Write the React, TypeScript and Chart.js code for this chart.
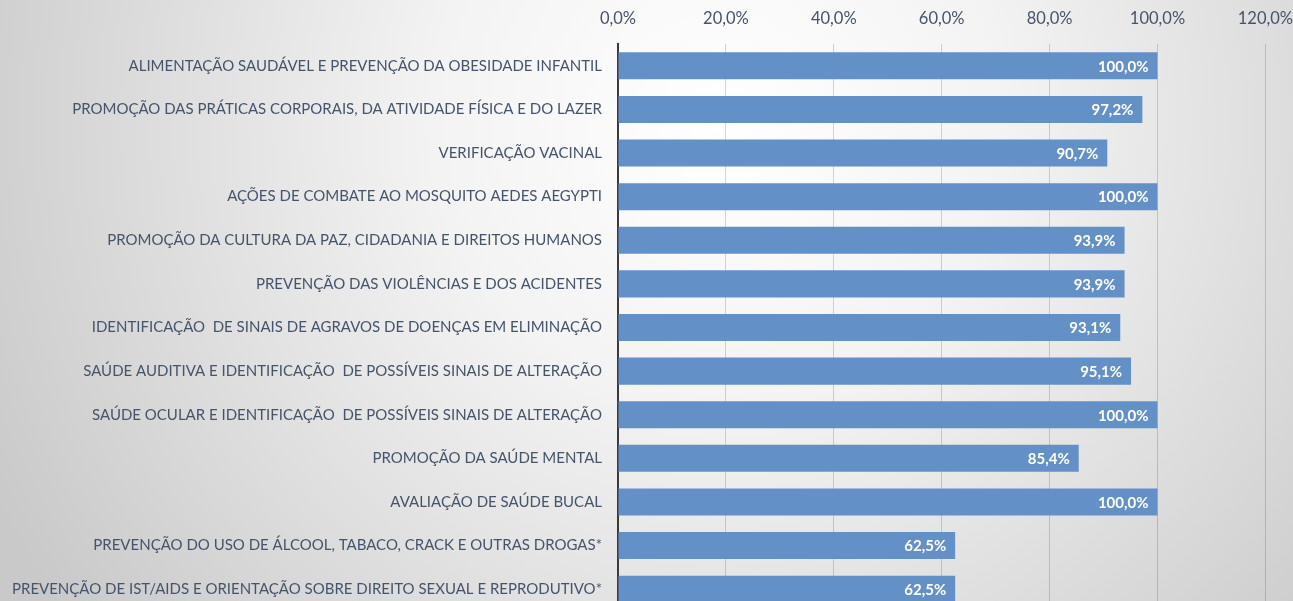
import React, { useEffect, useRef } from "react";
import { Chart, registerables } from "chart.js";

Chart.register(...registerables);

const categories = [
  "ALIMENTAÇÃO SAUDÁVEL E PREVENÇÃO DA OBESIDADE INFANTIL",
  "PROMOÇÃO DAS PRÁTICAS CORPORAIS, DA ATIVIDADE FÍSICA E DO LAZER",
  "VERIFICAÇÃO VACINAL",
  "AÇÕES DE COMBATE AO MOSQUITO AEDES AEGYPTI",
  "PROMOÇÃO DA CULTURA DA PAZ, CIDADANIA E DIREITOS HUMANOS",
  "PREVENÇÃO DAS VIOLÊNCIAS E DOS ACIDENTES",
  "IDENTIFICAÇÃO  DE SINAIS DE AGRAVOS DE DOENÇAS EM ELIMINAÇÃO",
  "SAÚDE AUDITIVA E IDENTIFICAÇÃO  DE POSSÍVEIS SINAIS DE ALTERAÇÃO",
  "SAÚDE OCULAR E IDENTIFICAÇÃO  DE POSSÍVEIS SINAIS DE ALTERAÇÃO",
  "PROMOÇÃO DA SAÚDE MENTAL",
  "AVALIAÇÃO DE SAÚDE BUCAL",
  "PREVENÇÃO DO USO DE ÁLCOOL, TABACO, CRACK E OUTRAS DROGAS*",
  "PREVENÇÃO DE IST/AIDS E ORIENTAÇÃO SOBRE DIREITO SEXUAL E REPRODUTIVO*",
];

const values = [100, 97.2, 90.7, 100, 93.9, 93.9, 93.1, 95.1, 100, 85.4, 100, 62.5, 62.5];

const axisMin = 0;
const axisMax = 120;
const axisStep = 20;

const fmt = (v: number) => v.toFixed(1).replace(".", ",") + "%";

const FONT = "Lato, 'Open Sans', sans-serif";
const TEXT = "#44546A";

const bgPlugin = {
  id: "bgGradient",
  beforeDraw(chart: any) {
    const { ctx, width, height } = chart;
    ctx.save();
    const g = ctx.createRadialGradient(720, 120, 0, 720, 120, 820);
    g.addColorStop(0, "#ffffff");
    g.addColorStop(0.35, "#f3f3f3");
    g.addColorStop(1, "#c9c9c9");
    ctx.fillStyle = g;
    ctx.fillRect(0, 0, width, height);
    ctx.restore();
  },
};

const labelPlugin = {
  id: "barValueLabels",
  afterDatasetsDraw(chart: any) {
    const { ctx } = chart;
    const meta = chart.getDatasetMeta(0);
    ctx.save();
    ctx.font = `bold 15px ${FONT}`;
    ctx.fillStyle = "#ffffff";
    ctx.textAlign = "right";
    ctx.textBaseline = "middle";
    meta.data.forEach((bar: any, i: number) => {
      ctx.fillText(fmt(values[i]), bar.x - 9, bar.y + 1);
    });
    ctx.restore();
  },
};

export default function App() {
  const ref = useRef<HTMLCanvasElement | null>(null);
  useEffect(() => {
    document.body.style.margin = "0";
    document.body.style.overflow = "hidden";
    const chart = new Chart(ref.current!, {
      type: "bar",
      data: {
        labels: categories,
        datasets: [
          {
            data: values,
            backgroundColor: "#6490C8",
            categoryPercentage: 1,
            barPercentage: 0.62,
          },
        ],
      },
      options: {
        indexAxis: "y",
        animation: false,
        responsive: false,
        layout: { padding: { top: 0, right: 28, bottom: 0, left: 0 } },
        plugins: { legend: { display: false }, tooltip: { enabled: false } },
        scales: {
          x: {
            position: "top",
            min: axisMin,
            max: axisMax,
            ticks: {
              stepSize: axisStep,
              callback: (v: any) => fmt(Number(v)),
              color: TEXT,
              font: { family: FONT, size: 16.5 },
              padding: 15,
            },
            grid: { color: "rgba(0,0,0,0.16)", drawTicks: false },
            border: { display: false },
            afterFit: (s: any) => {
              s.height = 44;
            },
          },
          y: {
            ticks: {
              color: TEXT,
              font: { family: FONT, size: 15 },
              padding: 16,
              autoSkip: false,
            },
            grid: { display: false, drawTicks: false },
            border: { display: true, color: "#3a3a3a", width: 2 },
            afterFit: (s: any) => {
              s.width = 618;
            },
          },
        },
      },
      plugins: [bgPlugin, labelPlugin],
    });
    return () => chart.destroy();
  }, []);
  return (
    <div style={{ position: "fixed", left: 0, top: 0 }}>
      <canvas ref={ref} width={1308} height={636} />
    </div>
  );
}
